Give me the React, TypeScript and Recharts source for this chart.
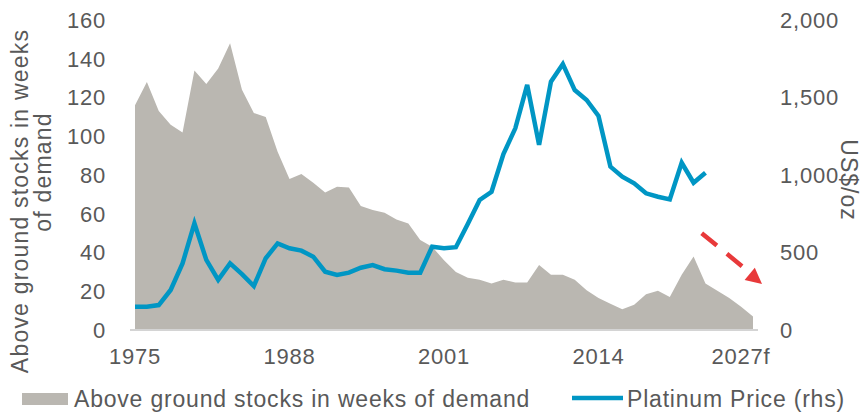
import React from 'react';
import { ComposedChart, Area, Line, XAxis, YAxis, Customized } from 'recharts';

const years = [
  1975, 1976, 1977, 1978, 1979, 1980, 1981, 1982, 1983, 1984,
  1985, 1986, 1987, 1988, 1989, 1990, 1991, 1992, 1993, 1994,
  1995, 1996, 1997, 1998, 1999, 2000, 2001, 2002, 2003, 2004,
  2005, 2006, 2007, 2008, 2009, 2010, 2011, 2012, 2013, 2014,
  2015, 2016, 2017, 2018, 2019, 2020, 2021, 2022, 2023, 2024,
  2025, 2026, 2027,
];

const stocksWeeks = [
  116, 128, 113, 106, 102, 134, 127, 135, 148, 124,
  112, 110, 92, 78, 80.5, 76, 71, 74, 73.5, 64,
  62, 60.5, 57, 55, 46.5, 43, 36, 30, 27, 26,
  24, 26, 24.5, 24.5, 33.5, 28.5, 28.5, 26, 20.5, 16.5,
  13.5, 10.7, 13, 18.5, 20.3, 17, 28.5, 38, 24, 20.3,
  16.5, 12, 7,
];

const platinumPrice = [
  150, 150, 161, 258, 430, 688, 452, 323, 430, 361,
  284, 463, 559, 527, 512, 473, 376, 355, 370, 402,
  419, 392, 383, 370, 370, 537, 527, 534, 684, 839,
  892, 1135, 1301, 1581, 1194, 1602, 1716, 1548, 1484, 1381,
  1054, 989, 946, 882, 860, 843, 1079, 950, 1015,
];

const xTickYears = [1975, 1988, 2001, 2014, 2027];
const xTickLabels = ['1975', '1988', '2001', '2014', '2027f'];
const leftTicks = [0, 20, 40, 60, 80, 100, 120, 140, 160];
const rightTicks = [0, 500, 1000, 1500, 2000];

const leftTitleLines = ['Above ground stocks in weeks', 'of demand'];
const rightTitle = 'US$/oz';
const legendStocks = 'Above ground stocks in weeks of demand';
const legendPrice = 'Platinum Price (rhs)';

const data = years.map((year, i) => ({
  year,
  stocks: stocksWeeks[i],
  price: i < platinumPrice.length ? platinumPrice[i] : undefined,
}));

const FONT = '"Liberation Sans", Arial, Helvetica, sans-serif';
const TEXT = '#595959';
const GREY = '#bab7b1';
const BLUE = '#0096c4';
const RED = '#e8393a';

const tickStyle = { fill: TEXT, fontSize: 22, fontFamily: FONT, letterSpacing: 0.8 };

const XTick = (props: any) => {
  const { x, y, payload } = props;
  const idx = xTickYears.indexOf(payload.value);
  const label = idx >= 0 ? xTickLabels[idx] : String(payload.value);
  const isLast = idx === xTickYears.length - 1;
  return (
    <text
      x={isLast ? x - 12 : x}
      y={y}
      dy="0.71em"
      textAnchor="middle"
      fill={TEXT}
      fontSize={22}
      fontFamily={FONT}
      letterSpacing={0.8}
    >
      {label}
    </text>
  );
};

const Annotations = () => (
  <g>
    {/* left axis title */}
    <text
      x={28}
      y={201}
      transform="rotate(-90, 28, 201)"
      textAnchor="middle"
      fill={TEXT}
      fontSize={23}
      fontFamily={FONT}
      letterSpacing={1.2}
    >
      {leftTitleLines[0]}
    </text>
    <text
      x={51}
      y={172}
      transform="rotate(-90, 51, 172)"
      textAnchor="middle"
      fill={TEXT}
      fontSize={23}
      fontFamily={FONT}
      letterSpacing={1.2}
    >
      {leftTitleLines[1]}
    </text>
    {/* right axis title */}
    <text
      x={849}
      y={180}
      transform="rotate(90, 849, 180)"
      textAnchor="middle"
      dominantBaseline="central"
      fill={TEXT}
      fontSize={23}
      fontFamily={FONT}
      letterSpacing={1}
    >
      {rightTitle}
    </text>
    {/* forecast arrow */}
    <line
      x1={701.7}
      y1={233.3}
      x2={742.7}
      y2={266.7}
      stroke={RED}
      strokeWidth={4.5}
      strokeDasharray="19.5 13"
    />
    <polygon points="762,284 744.6,279.9 754.8,267.7" fill={RED} />
    {/* legend */}
    <rect x={22} y={393} width={46} height={12} fill={GREY} />
    <text x={74} y={407} fill={TEXT} fontSize={23} fontFamily={FONT} letterSpacing={0.8}>
      {legendStocks}
    </text>
    <line x1={572} y1={398} x2={623} y2={398} stroke={BLUE} strokeWidth={4.5} />
    <text x={627} y={407} fill={TEXT} fontSize={23} fontFamily={FONT} letterSpacing={0.8}>
      {legendPrice}
    </text>
  </g>
);

export default function App() {
  return (
    <div style={{ position: 'absolute', left: 0, top: 0, width: 868, height: 415, background: '#fff' }}>
      <ComposedChart
        width={868}
        height={415}
        data={data}
        margin={{ top: 20, right: 10, bottom: 40, left: 0 }}
      >
        <XAxis
          dataKey="year"
          type="number"
          domain={[1975, 2027]}
          ticks={xTickYears}
          interval={0}
          padding={{ left: 5, right: 5 }}
          axisLine={{ stroke: '#d4d4d4', strokeWidth: 2 }}
          tickLine={false}
          tickSize={0}
          tickMargin={18}
          height={45}
          tick={<XTick />}
        />
        <YAxis
          yAxisId="left"
          orientation="left"
          domain={[0, 160]}
          ticks={leftTicks}
          interval={0}
          width={130}
          axisLine={false}
          tickLine={false}
          tickSize={0}
          tickMargin={24}
          tick={tickStyle}
        />
        <YAxis
          yAxisId="right"
          orientation="right"
          domain={[0, 2000]}
          ticks={rightTicks}
          interval={0}
          width={100}
          axisLine={false}
          tickLine={false}
          tickSize={0}
          tickMargin={22}
          tick={{ ...tickStyle, textAnchor: 'start' }}
          tickFormatter={(v: number) => v.toLocaleString('en-US')}
        />
        <Area
          yAxisId="left"
          dataKey="stocks"
          type="linear"
          fill={GREY}
          fillOpacity={1}
          stroke="none"
          isAnimationActive={false}
        />
        <Line
          yAxisId="right"
          dataKey="price"
          type="linear"
          stroke={BLUE}
          strokeWidth={4.5}
          dot={false}
          activeDot={false}
          isAnimationActive={false}
        />
        <Customized component={Annotations} />
      </ComposedChart>
    </div>
  );
}
